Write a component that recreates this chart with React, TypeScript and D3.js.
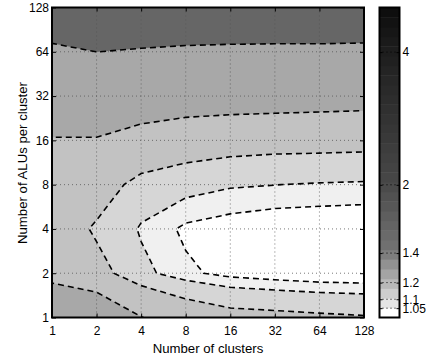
import { useEffect, useRef } from 'react'
import * as d3 from 'd3'

// grid axes (log2)
const clusters = [1, 2, 4, 8, 16, 32, 64, 128]
const alus = [1, 2, 4, 8, 16, 32, 64, 128]

// normalised cost; rows = ALUs per cluster (1 -> 128), cols = clusters (1 -> 128)
const cost = [
  [1.75, 1.6, 1.4055, 1.3, 1.246, 1.234, 1.221, 1.2095],
  [1.3, 1.25, 1.12, 1.062, 1.032, 1.018, 1.007, 1.004],
  [1.3, 1.18, 1.092, 1.0386, 1.0207, 1.0066, 1.004, 1.0016],
  [1.32, 1.28, 1.15, 1.126, 1.107, 1.101, 1.094, 1.0896],
  [1.385, 1.39, 1.35, 1.277, 1.255, 1.2445, 1.243, 1.2388],
  [1.6, 1.533, 1.485, 1.514, 1.505, 1.499, 1.488, 1.4794],
  [1.8, 2.003, 1.95, 1.9, 1.9, 1.9, 1.9, 1.9],
  [2.85, 3.0, 2.58, 2.61, 2.49, 2.456, 2.456, 2.4],
]

const levels = [1.05, 1.1, 1.2, 1.4, 2]
const baseFill = '#ffffff'
const levelFills = ['#f0f0f0', '#d6d6d6', '#c2c2c2', '#a8a8a8', '#666666']

// colorbar
const cbRange = [1, 5.05]
const cbTicks = [1.05, 1.1, 1.2, 1.4, 2, 4]
const cbStopValues = [1, 1.05, 1.1, 1.2, 1.4, 2, 4, 5.05]
const cbStopColors = ['#ffffff', '#e6e6e6', '#d0d0d0', '#acacac', '#727272', '#474747', '#1c1c1c', '#0a0a0a']

const FONT = "'Liberation Sans', Arial, Helvetica, sans-serif"

export default function App() {
  const ref = useRef<SVGSVGElement>(null)
  useEffect(() => {
    const left = 52, right = 364, top = 7.5, bottom = 317.5
    const svg = d3.select(ref.current)
    svg.selectAll('*').remove()

    const x = d3.scaleLog().base(2).domain([1, 128]).range([left, right])
    const y = d3.scaleLog().base(2).domain([1, 128]).range([bottom, top])
    const xi = d3.scaleLinear().domain([0, clusters.length - 1]).range([x(clusters[0]), x(clusters[clusters.length - 1])])
    const yi = d3.scaleLinear().domain([0, alus.length - 1]).range([y(alus[0]), y(alus[alus.length - 1])])

    svg.append('defs').append('clipPath').attr('id', 'plotClip')
      .append('rect').attr('x', left).attr('y', top).attr('width', right - left).attr('height', bottom - top)

    const contours = d3.contours().size([clusters.length, alus.length]).thresholds(levels)(cost.flat())
    const path = d3.geoPath(d3.geoTransform({
      point(px: number, py: number) { (this as any).stream.point(xi(px - 0.5), yi(py - 0.5)) }
    }))

    const plot = svg.append('g').attr('clip-path', 'url(#plotClip)')
    plot.append('rect').attr('x', left).attr('y', top).attr('width', right - left).attr('height', bottom - top).attr('fill', baseFill)
    plot.selectAll('path.fill').data(contours).join('path').attr('class', 'fill')
      .attr('d', d => path(d as any)).attr('fill', (d, i) => levelFills[i]).attr('stroke', 'none')

    // dotted grid
    const grid = svg.append('g').attr('stroke', '#555').attr('stroke-width', 0.8).attr('stroke-dasharray', '1,3')
    grid.selectAll('line.v').data(clusters.slice(1, -1)).join('line').attr('class', 'v')
      .attr('x1', d => x(d)).attr('x2', d => x(d)).attr('y1', top).attr('y2', bottom)
    grid.selectAll('line.h').data(alus.slice(1, -1)).join('line').attr('class', 'h')
      .attr('y1', d => y(d)).attr('y2', d => y(d)).attr('x1', left).attr('x2', right)

    // contour lines
    svg.append('g').attr('clip-path', 'url(#plotClip)')
      .selectAll('path').data(contours).join('path')
      .attr('d', d => path(d as any)).attr('fill', 'none').attr('stroke', '#000')
      .attr('stroke-width', 1.6).attr('stroke-dasharray', '6,4')

    // axes
    const fmt = d3.format('d')
    const styleAxis = (g: any) => {
      g.select('.domain').remove()
      g.selectAll('.tick line').attr('stroke', '#000').attr('stroke-width', 1)
      g.selectAll('.tick text').attr('font-family', FONT).attr('font-size', 12).attr('fill', '#000')
    }
    svg.append('g').attr('transform', `translate(0,${bottom})`)
      .call(d3.axisBottom(x).tickValues(clusters).tickFormat(fmt as any).tickSize(-4).tickPadding(9)).call(styleAxis)
    svg.append('g').attr('transform', `translate(0,${top})`)
      .call(d3.axisTop(x).tickValues(clusters).tickFormat(() => '').tickSize(-4)).call(styleAxis)
    svg.append('g').attr('transform', `translate(${left},0)`)
      .call(d3.axisLeft(y).tickValues(alus).tickFormat(fmt as any).tickSize(-4).tickPadding(3)).call(styleAxis)
    svg.append('g').attr('transform', `translate(${right},0)`)
      .call(d3.axisRight(y).tickValues(alus).tickFormat(() => '').tickSize(-4)).call(styleAxis)

    svg.append('rect').attr('x', left).attr('y', top).attr('width', right - left).attr('height', bottom - top)
      .attr('fill', 'none').attr('stroke', '#000').attr('stroke-width', 2)

    svg.append('text').attr('x', (left + right) / 2).attr('y', 353).attr('text-anchor', 'middle')
      .attr('font-family', FONT).attr('font-size', 13.2).text('Number of clusters')
    svg.append('text').attr('transform', `translate(27,${(top + bottom) / 2 + 0.5}) rotate(-90)`).attr('text-anchor', 'middle')
      .attr('font-family', FONT).attr('font-size', 13.2).text('Number of ALUs per cluster')

    // colorbar
    const cx0 = 379.5, cx1 = 399.5
    const cb = d3.scaleLog().domain(cbRange).range([bottom, top])
    const cbColor = d3.scaleLinear<string>().domain(cbStopValues.map(Math.log)).range(cbStopColors)
    const nb = 32
    const step = (bottom - top) / nb
    svg.append('g').selectAll('rect').data(d3.range(nb)).join('rect')
      .attr('x', cx0).attr('width', cx1 - cx0)
      .attr('y', k => bottom - (k + 1) * step).attr('height', step + 0.5)
      .attr('fill', k => cbColor(Math.log(cb.invert(bottom - k * step))))
    svg.append('g').attr('stroke', '#000').attr('stroke-width', 1).attr('stroke-dasharray', '1,3')
      .selectAll('line').data(cbTicks).join('line')
      .attr('x1', cx0 + 3).attr('x2', cx1 - 3).attr('y1', d => cb(d)).attr('y2', d => cb(d))
    svg.append('g').attr('transform', `translate(${cx0},0)`)
      .call(d3.axisLeft(cb).tickValues(cbTicks).tickFormat(() => '').tickSize(-3)).call(styleAxis)
    svg.append('g').attr('transform', `translate(${cx1},0)`)
      .call(d3.axisRight(cb).tickValues(cbTicks).tickFormat(d => String(d)).tickSize(-3).tickPadding(3)).call(styleAxis)
    svg.append('rect').attr('x', cx0).attr('y', top).attr('width', cx1 - cx0).attr('height', bottom - top)
      .attr('fill', 'none').attr('stroke', '#000').attr('stroke-width', 2)
  }, [])
  return <svg ref={ref} width={432} height={360} style={{ position: 'absolute', left: 0, top: 0, display: 'block', background: '#fff' }} />
}
